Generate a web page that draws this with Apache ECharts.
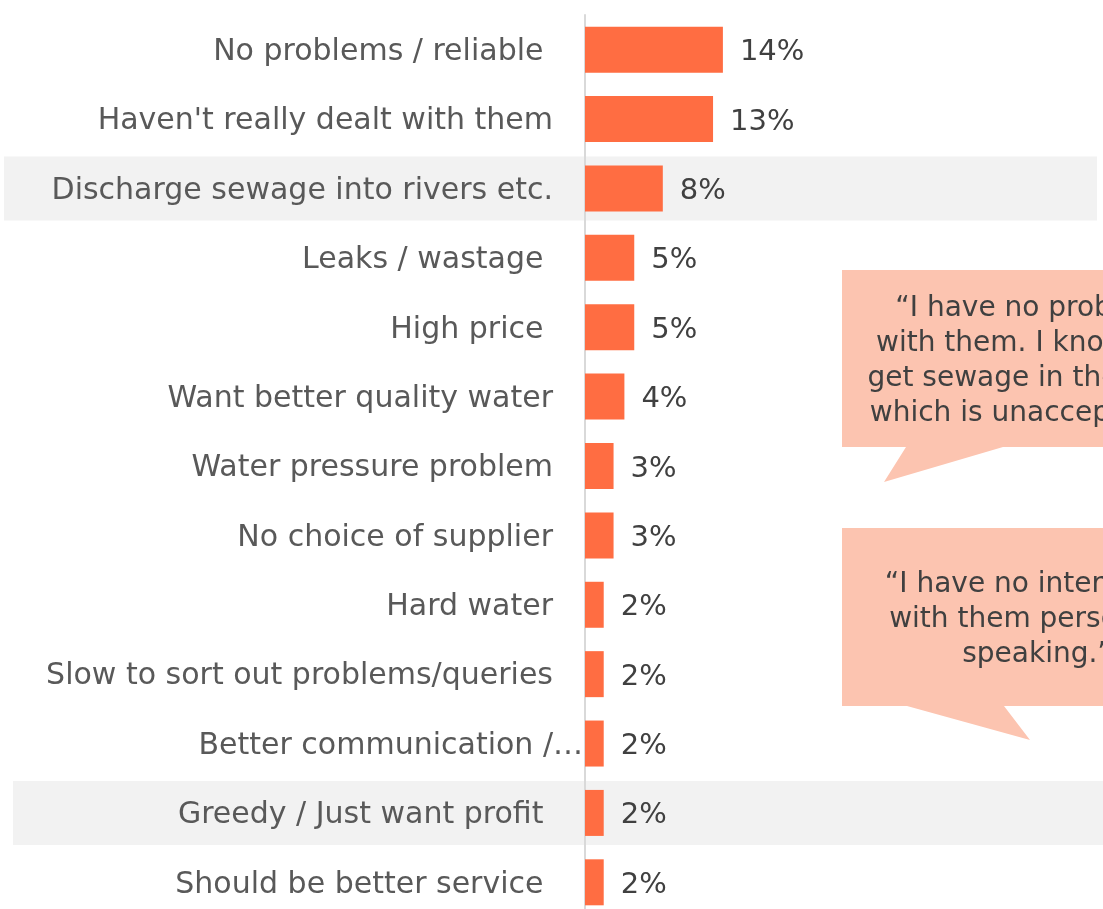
<!DOCTYPE html>
<html>
<head>
<meta charset="utf-8">
<title>Water company perceptions</title>
<script src="https://cdn.jsdelivr.net/npm/echarts@6/dist/echarts.min.js"></script>
<style>
    html, body { margin: 0; padding: 0; background: #fff; }
    #main { width: 1103px; height: 909px; }
</style>
</head>
<body>
<div id="main"></div>
<script>
    // categories, top to bottom (trailing spaces are in the source labels)
    var categories = [
        'No problems / reliable ',
        "Haven't really dealt with them",
        'Discharge sewage into rivers etc.',
        'Leaks / wastage ',
        'High price ',
        'Want better quality water',
        'Water pressure problem',
        'No choice of supplier',
        'Hard water',
        'Slow to sort out problems/queries',
        'Better communication /…',
        'Greedy / Just want profit ',
        'Should be better service '
    ];
    // share of respondents, %
    var values = [14.0, 13.0, 7.9, 5.0, 5.0, 4.0, 2.9, 2.9, 1.9, 1.9, 1.9, 1.9, 1.9];
    // rows shaded grey
    var highlighted = ['Discharge sewage into rivers etc.', 'Greedy / Just want profit '];
    // quotes in the speech bubbles
    var quotes = [
        '\u201CI have no problems\nwith them. I know they\nget sewage in the rivers\nwhich is unacceptable.\u201D',
        '\u201CI have no interaction\nwith them personally\nspeaking.\u201D'
    ];

    var FONT = 'DejaVu Sans';
    var chartDom = document.getElementById('main');
    var myChart = echarts.init(chartDom);

    var option = {
        animation: false,
        grid: { left: 585, top: 15, width: 197, height: 902, outerBoundsMode: 'none', containLabel: false },
        xAxis: { type: 'value', min: 0, max: 20, show: false },
        yAxis: {
            type: 'category',
            inverse: true,
            data: categories,
            axisTick: { show: false },
            axisLine: { show: true, lineStyle: { color: '#D9D9D9', width: 2 } },
            axisLabel: {
                margin: 2,
                formatter: function (v) {
                    // the truncated label runs right up to the axis
                    return v.slice(-1) === '…' ? '{e|' + v + '}' : '{n|' + v + '}';
                },
                rich: {
                    n: { fontFamily: FONT, fontSize: 30, color: '#595959', padding: [5, 30, 0, 0] },
                    e: { fontFamily: FONT, fontSize: 30, color: '#595959', padding: [5, 0, 0, 0] }
                }
            }
        },
        series: [{
            type: 'bar',
            data: values,
            barWidth: 46,
            z: 3,
            itemStyle: { color: '#FF6D42' },
            label: {
                show: true,
                position: 'right',
                distance: 17,
                offset: [0, 3],
                fontFamily: FONT,
                fontSize: 29,
                color: '#404040',
                formatter: function (p) { return Math.round(p.value) + '%'; }
            }
        }]
    };
    myChart.setOption(option);

    // grey bands behind the highlighted rows, placed on the category scale
    var graphics = [];
    highlighted.forEach(function (name, i) {
        var cy = myChart.convertToPixel({ yAxisIndex: 0 }, name);
        graphics.push({
            type: 'rect',
            z: -10,
            shape: i === 0 ? { x: 4, y: cy - 32, width: 1093, height: 64 }
                           : { x: 13, y: cy - 32, width: 1100, height: 64 },
            style: { fill: '#F2F2F2' }
        });
    });

    // speech bubbles (run off the right edge like the original slide)
    // tail = [left base, tip, right base]
    function bubble(top, bottom, tail, text, textY) {
        graphics.push({
            type: 'polygon',
            z: 100,
            shape: { points: [[842, top], [1232, top], [1232, bottom], tail[2], tail[1], tail[0], [842, bottom]] },
            style: { fill: '#FCC4B0' }
        });
        graphics.push({
            type: 'text',
            z: 101,
            x: 1037,
            y: textY,
            style: {
                text: text,
                fontFamily: FONT,
                fontSize: 28,
                lineHeight: 35,
                fill: '#404040',
                align: 'center',
                verticalAlign: 'top'
            }
        });
    }
    bubble(270, 447, [[906, 447], [884, 482], [1003, 447]], quotes[0], 291);
    bubble(528, 706, [[907, 706], [1030, 740], [1004, 706]], quotes[1], 567);

    myChart.setOption({ graphic: graphics });
</script>
</body>
</html>
